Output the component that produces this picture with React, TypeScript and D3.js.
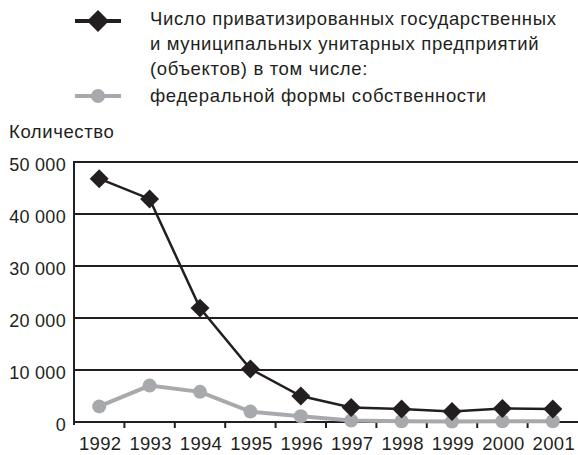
import React, { useRef, useEffect } from 'react';
import * as d3 from 'd3';

const years = ['1992', '1993', '1994', '1995', '1996', '1997', '1998', '1999', '2000', '2001'];
const totalValues = [46800, 42900, 21900, 10200, 5000, 2800, 2500, 2000, 2600, 2500];
const federalValues = [3000, 7000, 5800, 2000, 1100, 300, 150, 100, 150, 150];
const yTicks = [0, 10000, 20000, 30000, 40000, 50000];
const legendTotal = [
  'Число приватизированных государственных',
  'и муниципальных унитарных предприятий',
  '(объектов) в том числе:',
];
const legendFederal = 'федеральной формы собственности';
const yTitle = 'Количество';

const dark = '#231f20';
const grey = '#a7a9ac';
const font = '"Liberation Sans", Arial, sans-serif';

const App: React.FC = () => {
  const svgRef = useRef<SVGSVGElement>(null);

  useEffect(() => {
    if (!svgRef.current) return;
    const svg = d3.select(svgRef.current);
    svg.selectAll('*').remove();

    const width = 578;
    const height = 455;
    const margin = { top: 162, right: 0, bottom: 33, left: 74 };

    const x = d3.scaleBand()
      .domain(years)
      .range([margin.left, width - margin.right]);

    const y = d3.scaleLinear()
      .domain([0, 50000])
      .range([height - margin.bottom, margin.top]);

    const fmt = (v: number) => d3.format(',')(v).replace(/,/g, ' ');

    // Gridlines
    svg.append('g')
      .selectAll('line')
      .data(yTicks)
      .enter()
      .append('line')
      .attr('x1', margin.left)
      .attr('x2', width)
      .attr('y1', d => y(d))
      .attr('y2', d => y(d))
      .attr('stroke', dark)
      .attr('stroke-width', 2);

    // Y axis line
    svg.append('line')
      .attr('x1', margin.left)
      .attr('x2', margin.left)
      .attr('y1', y(50000) - 1)
      .attr('y2', y(0) + 3)
      .attr('stroke', dark)
      .attr('stroke-width', 2);

    // X ticks between categories
    svg.append('g')
      .selectAll('line')
      .data(years.slice(1))
      .enter()
      .append('line')
      .attr('x1', d => x(d) || 0)
      .attr('x2', d => x(d) || 0)
      .attr('y1', y(0))
      .attr('y2', y(0) + 6)
      .attr('stroke', dark)
      .attr('stroke-width', 2);

    // Y labels
    svg.append('g')
      .selectAll('text')
      .data(yTicks)
      .enter()
      .append('text')
      .attr('x', margin.left - 8)
      .attr('y', d => y(d))
      .attr('dy', '0.5em')
      .attr('text-anchor', 'end')
      .style('font-family', font)
      .style('font-size', '18px')
      .style('letter-spacing', '0.3px')
      .attr('fill', dark)
      .text(d => fmt(d));

    // X labels
    svg.append('g')
      .selectAll('text')
      .data(years)
      .enter()
      .append('text')
      .attr('x', d => (x(d) || 0) + x.bandwidth() / 2 + 1)
      .attr('y', 450)
      .attr('text-anchor', 'middle')
      .style('font-family', font)
      .style('font-size', '18.5px')
      .style('letter-spacing', '0.3px')
      .attr('fill', dark)
      .text(d => d);

    // Y title
    svg.append('text')
      .attr('x', 9)
      .attr('y', 138)
      .style('font-family', font)
      .style('font-size', '18.5px')
      .style('letter-spacing', '0.6px')
      .attr('fill', dark)
      .text(yTitle);

    const cx = (d: string) => (x(d) || 0) + x.bandwidth() / 2;

    // Federal series
    const federal = years.map((yr, i) => ({ yr, v: federalValues[i] }));
    svg.append('path')
      .datum(federal)
      .attr('fill', 'none')
      .attr('stroke', grey)
      .attr('stroke-width', 4)
      .attr('d', d3.line<{ yr: string; v: number }>().x(d => cx(d.yr)).y(d => y(d.v)));
    svg.append('g')
      .selectAll('circle')
      .data(federal)
      .enter()
      .append('circle')
      .attr('cx', d => cx(d.yr))
      .attr('cy', d => y(d.v))
      .attr('r', 7)
      .attr('fill', grey);

    // Total series
    const total = years.map((yr, i) => ({ yr, v: totalValues[i] }));
    svg.append('path')
      .datum(total)
      .attr('fill', 'none')
      .attr('stroke', dark)
      .attr('stroke-width', 2.5)
      .attr('d', d3.line<{ yr: string; v: number }>().x(d => cx(d.yr)).y(d => y(d.v)));
    const diamond = d3.symbol().type(d3.symbolSquare).size(180);
    svg.append('g')
      .selectAll('path')
      .data(total)
      .enter()
      .append('path')
      .attr('d', diamond)
      .attr('transform', d => `translate(${cx(d.yr)},${y(d.v)}) rotate(45)`)
      .attr('fill', dark);

    // Legend
    const legend = svg.append('g');
    legend.append('line')
      .attr('x1', 75).attr('x2', 121).attr('y1', 21).attr('y2', 21)
      .attr('stroke', dark).attr('stroke-width', 4);
    legend.append('path')
      .attr('d', d3.symbol().type(d3.symbolSquare).size(240))
      .attr('transform', 'translate(98,21) rotate(45)')
      .attr('fill', dark);
    legend.append('line')
      .attr('x1', 75).attr('x2', 121).attr('y1', 96).attr('y2', 96)
      .attr('stroke', grey).attr('stroke-width', 4);
    legend.append('circle')
      .attr('cx', 98).attr('cy', 96).attr('r', 7)
      .attr('fill', grey);

    legendTotal.forEach((line, i) => {
      legend.append('text')
        .attr('x', 150)
        .attr('y', 25 + i * 25)
        .style('font-family', font)
        .style('font-size', '18.5px')
        .style('letter-spacing', '0.65px')
        .attr('fill', dark)
        .text(line);
    });
    legend.append('text')
      .attr('x', 150)
      .attr('y', 102)
      .style('font-family', font)
      .style('font-size', '18.5px')
      .style('letter-spacing', '0.65px')
      .attr('fill', dark)
      .text(legendFederal);
  }, []);

  return (
    <div style={{ position: 'absolute', left: 0, top: 0 }}>
      <svg ref={svgRef} width={578} height={455} style={{ display: 'block', background: '#fff' }} />
    </div>
  );
};

export default App;
